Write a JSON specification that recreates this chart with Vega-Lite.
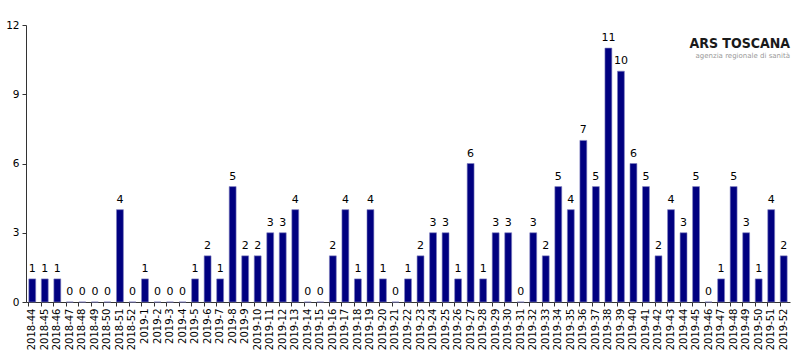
{
  "$schema": "https://vega.github.io/schema/vega-lite/v6.json",
  "autosize": "none",
  "width": 764,
  "height": 277,
  "padding": {"left": 26, "top": 25, "right": 10, "bottom": 51},
  "background": "white",
  "title": {
    "text": "ARS TOSCANA",
    "subtitle": "agenzia regionale di sanità",
    "anchor": "end",
    "orient": "top",
    "offset": -39,
    "font": "DejaVu Sans Condensed",
    "fontSize": 14,
    "fontWeight": "bold",
    "color": "#1a1a1a",
    "subtitleFont": "DejaVu Sans",
    "subtitleFontSize": 7,
    "subtitleColor": "#999999",
    "subtitlePadding": 1
  },
  "config": {
    "view": {"stroke": null},
    "font": "DejaVu Sans"
  },
  "data": {
    "values": [
      {"week": "2018-44", "n": 1}, {"week": "2018-45", "n": 1}, {"week": "2018-46", "n": 1},
      {"week": "2018-47", "n": 0}, {"week": "2018-48", "n": 0}, {"week": "2018-49", "n": 0},
      {"week": "2018-50", "n": 0}, {"week": "2018-51", "n": 4}, {"week": "2018-52", "n": 0},
      {"week": "2019-1", "n": 1}, {"week": "2019-2", "n": 0}, {"week": "2019-3", "n": 0},
      {"week": "2019-4", "n": 0}, {"week": "2019-5", "n": 1}, {"week": "2019-6", "n": 2},
      {"week": "2019-7", "n": 1}, {"week": "2019-8", "n": 5}, {"week": "2019-9", "n": 2},
      {"week": "2019-10", "n": 2}, {"week": "2019-11", "n": 3}, {"week": "2019-12", "n": 3},
      {"week": "2019-13", "n": 4}, {"week": "2019-14", "n": 0}, {"week": "2019-15", "n": 0},
      {"week": "2019-16", "n": 2}, {"week": "2019-17", "n": 4}, {"week": "2019-18", "n": 1},
      {"week": "2019-19", "n": 4}, {"week": "2019-20", "n": 1}, {"week": "2019-21", "n": 0},
      {"week": "2019-22", "n": 1}, {"week": "2019-23", "n": 2}, {"week": "2019-24", "n": 3},
      {"week": "2019-25", "n": 3}, {"week": "2019-26", "n": 1}, {"week": "2019-27", "n": 6},
      {"week": "2019-28", "n": 1}, {"week": "2019-29", "n": 3}, {"week": "2019-30", "n": 3},
      {"week": "2019-31", "n": 0}, {"week": "2019-32", "n": 3}, {"week": "2019-33", "n": 2},
      {"week": "2019-34", "n": 5}, {"week": "2019-35", "n": 4}, {"week": "2019-36", "n": 7},
      {"week": "2019-37", "n": 5}, {"week": "2019-38", "n": 11}, {"week": "2019-39", "n": 10},
      {"week": "2019-40", "n": 6}, {"week": "2019-41", "n": 5}, {"week": "2019-42", "n": 2},
      {"week": "2019-43", "n": 4}, {"week": "2019-44", "n": 3}, {"week": "2019-45", "n": 5},
      {"week": "2019-46", "n": 0}, {"week": "2019-47", "n": 1}, {"week": "2019-48", "n": 5},
      {"week": "2019-49", "n": 3}, {"week": "2019-50", "n": 1}, {"week": "2019-51", "n": 4},
      {"week": "2019-52", "n": 2}
    ]
  },
  "encoding": {
    "y": {
      "field": "n",
      "type": "quantitative",
      "scale": {"domain": [0, 12], "nice": false},
      "axis": {
        "title": null,
        "values": [0, 3, 6, 9, 12],
        "grid": false,
        "labelFontSize": 10.5,
        "labelColor": "#000000",
        "labelPadding": 3,
        "domainColor": "#333333",
        "tickColor": "#333333",
        "tickSize": 4
      }
    }
  },
  "layer": [
    {
      "mark": {"type": "bar", "color": "#000080", "stroke": "#8080c0", "strokeWidth": 0.6},
      "encoding": {
        "x": {
          "field": "week",
          "type": "nominal",
          "sort": null,
          "scale": {"paddingInner": 0.45, "paddingOuter": 0.225},
          "axis": {
            "title": null,
            "orient": "bottom",
            "labelAngle": -90,
            "labelFontSize": 10,
            "labelColor": "#000000",
            "labelPadding": 6,
            "ticks": false,
            "domainColor": "#333333",
            "grid": false
          }
        }
      }
    },
    {
      "mark": {"type": "text", "baseline": "bottom", "dy": -5, "fontSize": 11, "color": "#000000"},
      "encoding": {
        "x": {
          "field": "week",
          "type": "nominal",
          "sort": null,
          "axis": {
            "title": null,
            "orient": "bottom",
            "labels": false,
            "domain": false,
            "bandPosition": 0,
            "tickColor": "#333333",
            "tickSize": 4,
            "grid": false
          }
        },
        "text": {"field": "n", "type": "quantitative"}
      }
    }
  ],
  "resolve": {"axis": {"x": "independent"}}
}
